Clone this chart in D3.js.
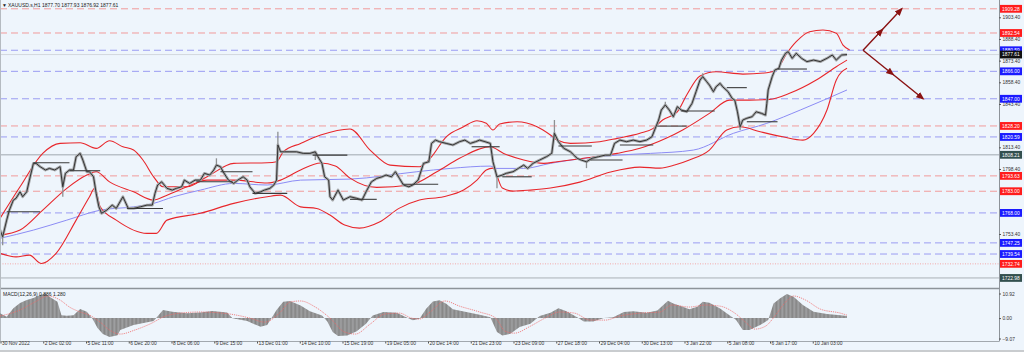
<!DOCTYPE html>
<html><head><meta charset="utf-8">
<script src="https://cdn.jsdelivr.net/npm/d3@7"></script>
<style>html,body{margin:0;padding:0;background:#eef5fc;overflow:hidden}text{font-family:"Liberation Sans",Arial,sans-serif}</style>
</head><body><svg id="c" width="1024" height="352"></svg>
<script>
// ---------- DATA ----------
const symbolTitle = "XAUUSD.s,H1  1877.70 1877.93 1876.92 1877.61";
const macdTitle = "MACD(12,26,9) 0.886 1.280";
const dateLabels = ["30 Nov 2022","2 Dec 02:00","5 Dec 11:00","6 Dec 20:00","8 Dec 06:00","9 Dec 15:00","13 Dec 01:00","14 Dec 10:00","15 Dec 19:00","19 Dec 05:00","20 Dec 14:00","21 Dec 23:00","23 Dec 09:00","27 Dec 18:00","29 Dec 04:00","30 Dec 13:00","3 Jan 22:00","5 Jan 08:00","6 Jan 17:00","10 Jan 03:00"];
const barsPerLabel = 32;
const priceTicks = [1903.40,1888.40,1873.40,1858.40,1843.40,1813.40,1798.40,1753.40];
const macdTicks = [10.92,0.00,-9.07];
const redLevels = [1909.28,1892.54,1828.20,1793.63,1783.00];
const blueLevels = [1880.59,1866.00,1847.00,1820.59,1768.00,1747.25,1739.54];
const grayLevel = 1808.21, dottedLevel = 1732.74, bottomLevel = 1722.98, lastPrice = 1877.61;

// close path [bar, price]
const priceSeries = [[0,1756.1],[2,1751.5],[5,1763.0],[7,1769.9],[10,1776.9],[12,1778.1],[15,1782.6],[17,1779.2],[20,1782.6],[22,1790.7],[25,1802.3],[27,1802.3],[30,1800.0],[34,1797.7],[37,1798.8],[41,1797.7],[45,1800.0],[47,1786.1],[49,1795.4],[52,1797.7],[55,1797.7],[57,1806.9],[60,1809.2],[62,1804.6],[65,1796.5],[67,1796.5],[70,1793.0],[72,1781.5],[74,1772.3],[76,1767.7],[80,1770.0],[84,1773.4],[87,1771.1],[92,1779.2],[96,1771.1],[100,1771.1],[105,1772.2],[110,1773.4],[114,1773.4],[116,1781.5],[118,1787.3],[121,1789.5],[125,1785.0],[129,1783.8],[132,1785.0],[136,1786.1],[138,1790.7],[142,1788.4],[146,1790.7],[150,1790.7],[153,1795.4],[157,1794.2],[160,1797.7],[162,1801.1],[165,1800.0],[167,1796.5],[171,1790.7],[175,1788.4],[178,1790.7],[182,1793.0],[185,1790.7],[187,1786.1],[191,1781.5],[195,1782.6],[198,1783.8],[202,1785.0],[205,1787.3],[207,1790.7],[208,1815.0],[210,1810.3],[213,1810.3],[217,1810.3],[222,1810.3],[227,1809.2],[232,1809.2],[236,1810.3],[238,1806.9],[241,1802.3],[243,1793.0],[246,1790.7],[247,1779.2],[249,1776.9],[253,1783.8],[257,1776.9],[262,1779.2],[267,1778.1],[271,1776.9],[274,1782.6],[278,1789.5],[282,1791.9],[286,1793.0],[289,1794.2],[293,1793.0],[296,1796.5],[299,1791.9],[302,1787.3],[306,1786.1],[309,1787.3],[313,1790.7],[317,1802.3],[321,1803.4],[323,1816.1],[326,1818.4],[329,1817.3],[334,1816.1],[339,1815.0],[344,1817.3],[348,1818.4],[352,1816.1],[356,1817.3],[359,1818.4],[363,1817.3],[367,1816.1],[369,1803.4],[372,1793.0],[376,1794.2],[379,1795.4],[384,1796.5],[388,1798.8],[392,1801.1],[395,1798.8],[399,1802.3],[404,1804.6],[409,1806.9],[413,1809.2],[415,1823.1],[418,1817.3],[422,1812.7],[427,1810.3],[432,1805.8],[435,1804.6],[439,1803.4],[443,1805.8],[448,1806.9],[453,1808.0],[457,1808.0],[460,1816.1],[464,1818.4],[469,1817.3],[474,1818.4],[479,1817.3],[484,1818.4],[488,1820.7],[490,1825.4],[493,1832.3],[495,1839.2],[498,1842.7],[501,1839.2],[504,1834.6],[507,1841.5],[510,1839.2],[514,1838.0],[518,1843.8],[521,1851.9],[524,1860.0],[526,1862.3],[529,1858.8],[531,1856.5],[534,1851.9],[536,1855.3],[539,1857.7],[541,1855.3],[545,1851.9],[548,1847.3],[550,1846.1],[552,1838.0],[554,1827.6],[556,1832.3],[559,1833.5],[563,1834.6],[566,1838.0],[570,1836.9],[573,1835.7],[574,1843.8],[575,1853.1],[578,1862.3],[580,1866.9],[583,1868.1],[585,1873.8],[588,1878.5],[590,1879.6],[593,1875.0],[596,1878.5],[600,1875.0],[604,1872.7],[609,1873.8],[614,1872.7],[619,1875.0],[623,1877.3],[626,1873.8],[630,1877.3],[634,1877.6]];
// wick extremes [bar, price]
const wickSeries = [[2,1745.6],[47,1779.2],[162,1805.8],[208,1824.2],[236,1804.6],[372,1785.0],[415,1832.3],[439,1799.0],[498,1845.0],[526,1864.6],[554,1825.4]];

const upperBand = [[0,1764.2],[15,1786.1],[32,1809.2],[45,1816.1],[60,1816.6],[72,1812.7],[82,1817.9],[92,1813.8],[100,1811.5],[107,1804.6],[115,1793.0],[122,1786.1],[140,1786.1],[155,1793.0],[175,1802.3],[200,1802.7],[207,1803.4],[212,1810.3],[225,1816.1],[240,1821.9],[262,1826.1],[277,1811.5],[292,1801.1],[314,1799.9],[322,1805.8],[334,1820.7],[347,1827.6],[357,1831.8],[364,1830.0],[369,1825.4],[374,1829.5],[387,1831.1],[402,1827.6],[412,1821.9],[417,1818.4],[427,1816.1],[449,1817.3],[462,1819.6],[479,1823.1],[489,1826.5],[496,1832.3],[507,1838.0],[514,1849.6],[524,1862.8],[536,1865.7],[556,1864.1],[574,1865.0],[581,1866.9],[589,1878.5],[596,1886.5],[606,1893.4],[616,1894.6],[626,1892.3],[631,1884.2],[636,1880.8]];
const middleBand = [[0,1752.6],[15,1756.1],[32,1769.9],[50,1785.0],[65,1794.2],[72,1796.5],[82,1789.5],[100,1782.6],[115,1776.9],[125,1780.3],[140,1786.1],[155,1790.7],[175,1790.7],[200,1788.7],[210,1790.7],[225,1797.7],[240,1802.5],[251,1800.4],[262,1792.1],[282,1785.7],[307,1787.3],[327,1796.5],[344,1805.8],[367,1813.8],[377,1809.2],[392,1804.6],[407,1802.3],[417,1803.4],[437,1805.8],[462,1809.2],[479,1812.7],[499,1819.8],[511,1825.4],[531,1836.9],[546,1846.1],[561,1846.1],[576,1846.6],[591,1850.8],[611,1860.0],[626,1869.2],[634,1873.8]];
const lowerBand = [[0,1740.0],[12,1737.6],[22,1738.8],[31,1733.0],[42,1740.0],[57,1763.0],[67,1779.2],[71,1785.2],[75,1772.2],[87,1763.0],[110,1753.8],[117,1753.8],[125,1763.0],[150,1767.7],[175,1774.6],[200,1779.2],[210,1780.3],[225,1772.2],[237,1771.1],[247,1766.5],[258,1759.6],[269,1757.5],[284,1761.7],[299,1771.3],[314,1776.9],[332,1779.2],[347,1783.8],[357,1790.7],[364,1797.7],[369,1799.0],[376,1785.2],[384,1783.1],[397,1783.8],[412,1785.2],[434,1789.3],[457,1796.3],[479,1799.7],[494,1799.0],[505,1801.1],[516,1804.6],[531,1811.5],[544,1825.4],[554,1827.6],[569,1824.2],[586,1820.7],[601,1818.4],[609,1823.1],[619,1839.2],[626,1860.0],[634,1868.1]];
const slowMA = [[0,1750.4],[25,1756.1],[50,1763.0],[75,1769.9],[100,1772.2],[115,1774.6],[130,1779.2],[150,1783.8],[175,1788.4],[200,1787.3],[225,1790.7],[262,1791.4],[312,1796.5],[337,1798.8],[367,1800.4],[372,1798.8],[392,1798.8],[412,1802.3],[437,1805.8],[462,1808.0],[487,1809.2],[519,1811.5],[549,1823.1],[574,1830.0],[599,1839.2],[634,1853.1]];
// short black level segments [startBar, endBar, price]
const levelSegments = [[5,30,1768.8],[25,52,1802.7],[52,75,1797.2],[95,122,1771.1],[147,174,1789.6],[165,189,1796.5],[189,215,1781.5],[234,260,1808.0],[262,282,1777.4],[302,328,1787.8],[353,374,1813.8],[376,398,1793.0],[418,443,1814.3],[442,466,1804.6],[464,489,1815.0],[492,514,1828.1],[510,535,1838.5],[544,559,1854.7],[559,582,1831.1],[582,604,1867.6]];
// forecast arrows [bar, price]
const arrowStart = [646,1880.59];
const arrowEnds = [[675,1909.28],[691,1847.00]];

const macdHist = [[0,2.1],[5,0.6],[10,4.4],[15,6.7],[20,8.0],[25,8.9],[30,10.2],[34,10.9],[37,9.5],[43,7.2],[46,1.3],[50,1.0],[55,1.3],[60,4.0],[65,2.8],[69,-0.1],[73,-4.4],[77,-7.1],[82,-8.4],[88,-7.6],[90,-5.3],[100,-3.1],[115,-1.3],[122,3.6],[129,2.8],[140,2.1],[150,2.5],[159,3.1],[170,2.5],[174,-0.1],[185,-1.3],[195,-3.9],[200,-3.1],[207,3.6],[212,7.2],[217,7.6],[225,5.6],[232,3.0],[241,1.2],[245,-1.5],[249,-6.2],[253,-8.0],[260,-7.7],[267,-5.9],[274,-2.5],[279,1.2],[287,2.7],[297,2.4],[304,0.4],[309,-1.0],[314,-0.3],[319,4.1],[324,7.4],[329,7.9],[334,6.4],[339,3.9],[349,2.7],[359,1.5],[367,0.4],[372,-6.2],[376,-7.7],[382,-7.0],[389,-4.0],[397,-2.5],[404,0.9],[412,2.4],[418,4.4],[424,3.0],[432,0.4],[437,-1.5],[444,-1.5],[452,0.0],[459,0.4],[467,2.7],[474,3.0],[484,2.4],[492,3.4],[500,7.7],[504,6.5],[511,5.0],[516,3.9],[522,5.0],[526,7.2],[531,6.8],[539,4.3],[546,1.3],[551,-0.9],[556,-5.3],[561,-5.3],[569,-3.1],[575,-0.9],[579,6.5],[584,8.8],[589,10.7],[594,9.5],[601,5.8],[609,2.8],[619,1.8],[629,1.3],[634,0.9]];
const macdSignal = [[0,0.9],[15,3.6],[26,7.1],[36,9.8],[45,8.0],[52,4.9],[60,2.7],[67,1.3],[75,-1.8],[82,-5.3],[90,-7.1],[101,-5.3],[112,-2.7],[124,0.9],[135,2.2],[150,2.7],[172,1.8],[187,0.0],[198,-1.8],[210,2.7],[217,7.1],[225,7.6],[236,4.9],[247,0.0],[258,-6.2],[266,-7.1],[277,-2.7],[288,1.8],[299,2.2],[308,0.0],[314,-0.4],[322,2.7],[333,7.6],[344,5.3],[359,2.7],[371,0.0],[378,-5.8],[385,-6.7],[397,-3.6],[408,0.0],[419,2.7],[430,2.2],[442,-0.9],[453,-0.9],[464,0.9],[479,2.2],[494,2.7],[503,5.8],[516,4.9],[528,5.8],[539,5.3],[550,2.2],[558,-1.8],[565,-4.9],[573,-3.6],[580,0.9],[588,7.1],[594,9.8],[603,8.0],[614,4.0],[629,2.2],[634,1.3]];

// ---------- LAYOUT ----------
const plotRight = 999, mainBottom = 288, macdTop = 290, macdBottom = 341.5;
const svg = d3.select('#c');
const x = d3.scaleLinear().domain([0, 634]).range([0, 847]);
const y = d3.scaleLinear().domain([1903.4, 1753.4]).range([17.3, 234]);
const ym = d3.scaleLinear().domain([10.92, -9.07]).range([293.5, 338.5]);

svg.append('rect').attr('width',1024).attr('height',352).attr('fill','#eef5fc');
const defs = svg.append('defs');
defs.append('clipPath').attr('id','mainClip').append('rect').attr('x',0).attr('y',0).attr('width',plotRight).attr('height',mainBottom);
defs.append('clipPath').attr('id','macdClip').append('rect').attr('x',0).attr('y',macdTop).attr('width',plotRight).attr('height',macdBottom-macdTop);
const pat = defs.append('pattern').attr('id','hist').attr('patternUnits','userSpaceOnUse').attr('width',1.336).attr('height',10);
pat.append('rect').attr('width',1.336).attr('height',10).attr('fill','#858585');
pat.append('rect').attr('x',0.95).attr('width',0.38).attr('height',10).attr('fill','#b4b7ba');
defs.append('marker').attr('id','ah').attr('viewBox','0 0 10 10').attr('refX',8).attr('refY',5)
  .attr('markerWidth',6).attr('markerHeight',6).attr('orient','auto')
  .append('path').attr('d','M0,1 L10,5 L0,9 z').attr('fill','#8a1212');

const main = svg.append('g').attr('clip-path','url(#mainClip)');

// level lines
main.selectAll('.rl').data(redLevels).join('line').attr('x1',0).attr('x2',plotRight)
  .attr('y1',d=>y(d)).attr('y2',d=>y(d)).attr('stroke','#f19b9b').attr('stroke-width',1).attr('stroke-dasharray','7,4');
main.selectAll('.bl').data(blueLevels).join('line').attr('x1',0).attr('x2',plotRight)
  .attr('y1',d=>y(d)).attr('y2',d=>y(d)).attr('stroke','#9a9cf2').attr('stroke-width',1).attr('stroke-dasharray','7,4');
main.append('line').attr('x1',0).attr('x2',plotRight).attr('y1',y(grayLevel)).attr('y2',y(grayLevel)).attr('stroke','#b9c1c8').attr('stroke-width',1.6);
main.append('line').attr('x1',0).attr('x2',plotRight).attr('y1',y(dottedLevel)).attr('y2',y(dottedLevel)).attr('stroke','#f2aaaa').attr('stroke-width',1).attr('stroke-dasharray','1,1.5');
main.append('line').attr('x1',0).attr('x2',plotRight).attr('y1',y(bottomLevel)).attr('y2',y(bottomLevel)).attr('stroke','#a9b0b6').attr('stroke-width',1);
main.append('line').attr('x1',0).attr('x2',plotRight).attr('y1',y(lastPrice)).attr('y2',y(lastPrice)).attr('stroke','#d2d8de').attr('stroke-width',1);

// bands and MA
const smooth = d3.line().x(d=>x(d[0])).y(d=>y(d[1])).curve(d3.curveMonotoneX);
main.append('path').datum(slowMA).attr('d',smooth).attr('fill','none').attr('stroke','#8c8cf5').attr('stroke-width',1);
[upperBand, middleBand, lowerBand].forEach(b=>{
  main.append('path').datum(b).attr('d',smooth).attr('fill','none').attr('stroke','#e8262b').attr('stroke-width',1.1);
});

// price
const lin = d3.line().x(d=>x(d[0])).y(d=>y(d[1]));
main.append('path').datum(priceSeries).attr('d',lin).attr('fill','none').attr('stroke','#a6a8aa').attr('stroke-width',2.8).attr('stroke-linejoin','round');
const closeAt = new Map(priceSeries.map(d=>[d[0],d[1]]));
main.selectAll('.wk').data(wickSeries).join('line').attr('x1',d=>x(d[0])).attr('x2',d=>x(d[0]))
  .attr('y1',d=>y(closeAt.get(d[0]))).attr('y2',d=>y(d[1])).attr('stroke','#8e9092').attr('stroke-width',1.3);
main.append('path').datum(priceSeries).attr('d',lin).attr('fill','none').attr('stroke','#333').attr('stroke-width',1).attr('stroke-linejoin','round');

// black level segments
main.selectAll('.seg').data(levelSegments).join('line').attr('x1',d=>x(d[0])).attr('x2',d=>x(d[1]))
  .attr('y1',d=>y(d[2])).attr('y2',d=>y(d[2])).attr('stroke','#3a3a3a').attr('stroke-width',1.1);

// arrows
arrowEnds.forEach(e=>{
  const mid = [(arrowStart[0]+e[0])/2,(arrowStart[1]+e[1])/2];
  main.append('polyline').attr('points',[arrowStart,mid,e].map(p=>x(p[0])+','+y(p[1])).join(' '))
    .attr('fill','none').attr('stroke','#8a1212').attr('stroke-width',1.4)
    .attr('marker-mid','url(#ah)').attr('marker-end','url(#ah)');
});

// frame
svg.append('line').attr('x1',plotRight+0.5).attr('x2',plotRight+0.5).attr('y1',0).attr('y2',macdBottom).attr('stroke','#8d9399').attr('stroke-width',1);
svg.append('line').attr('x1',0).attr('x2',plotRight).attr('y1',mainBottom+0.5).attr('y2',mainBottom+0.5).attr('stroke','#8d9399').attr('stroke-width',1.6);
svg.append('line').attr('x1',0).attr('x2',plotRight).attr('y1',macdBottom).attr('y2',macdBottom).attr('stroke','#a2a8ae').attr('stroke-width',1);
svg.append('line').attr('x1',0.5).attr('x2',0.5).attr('y1',0).attr('y2',macdBottom).attr('stroke','#b5bbc1').attr('stroke-width',1);
svg.append('rect').attr('x',0).attr('y',350).attr('width',1024).attr('height',2).attr('fill','#c9cccf');

// header
svg.append('text').attr('x',2).attr('y',6.5).attr('font-size',5).attr('fill','#222').text('\u25BC');
svg.append('text').attr('x',8).attr('y',6.5).attr('font-size',5).attr('fill','#222').text(symbolTitle);

// right price axis
const ra = svg.append('g').attr('transform',`translate(${plotRight},0)`)
  .call(d3.axisRight(y).tickValues(priceTicks).tickFormat(d3.format('.2f')).tickSize(2).tickPadding(1.5));
ra.select('.domain').remove();
ra.selectAll('text').attr('font-size',4.9).attr('fill','#333');
ra.selectAll('line').attr('stroke','#555');

function tag(v, bg){
  const g = svg.append('g').attr('transform',`translate(${plotRight+1},${y(v)})`);
  g.append('rect').attr('x',0).attr('y',-3.9).attr('width',22).attr('height',7.8).attr('fill',bg);
  g.append('text').attr('x',2).attr('y',1.8).attr('font-size',4.9).attr('fill','#fff').text(d3.format('.2f')(v));
}
redLevels.forEach(v=>tag(v,'#ff1c1c'));
blueLevels.forEach(v=>tag(v,'#1a1aff'));
tag(lastPrice,'#111');
tag(grayLevel,'#33504f');
tag(dottedLevel,'#ff1c1c');
tag(bottomLevel,'#33504f');

// MACD panel
const mg = svg.append('g').attr('clip-path','url(#macdClip)');
mg.append('path').datum(macdHist)
  .attr('d', d3.area().x(d=>x(d[0])).y0(ym(0)).y1(d=>ym(d[1])))
  .attr('fill','url(#hist)');
mg.append('path').datum(macdSignal)
  .attr('d', d3.line().x(d=>x(d[0])).y(d=>ym(d[1])).curve(d3.curveMonotoneX))
  .attr('fill','none').attr('stroke','#f06a6a').attr('stroke-width',0.8).attr('stroke-dasharray','1.2,1');
svg.append('text').attr('x',3).attr('y',295.5).attr('font-size',5).attr('fill','#222').text(macdTitle);
const ma = svg.append('g').attr('transform',`translate(${plotRight},0)`)
  .call(d3.axisRight(ym).tickValues(macdTicks).tickFormat(d3.format('.2f')).tickSize(2).tickPadding(1.5));
ma.select('.domain').remove();
ma.selectAll('text').attr('font-size',4.9).attr('fill','#333');
ma.selectAll('line').attr('stroke','#555');

// bottom date axis
const tickBars = dateLabels.map((_,i)=>i*barsPerLabel);
const xa = svg.append('g').attr('transform',`translate(0.5,${macdBottom})`)
  .call(d3.axisBottom(x).tickValues(tickBars).tickFormat((d,i)=>dateLabels[i]).tickSize(2).tickPadding(1.5));
xa.select('.domain').remove();
xa.selectAll('text').attr('font-size',4.9).attr('fill','#333').attr('text-anchor','start').attr('dx',1).attr('dy','-0.1em');
xa.selectAll('line').attr('stroke','#555');
</script></body></html>
